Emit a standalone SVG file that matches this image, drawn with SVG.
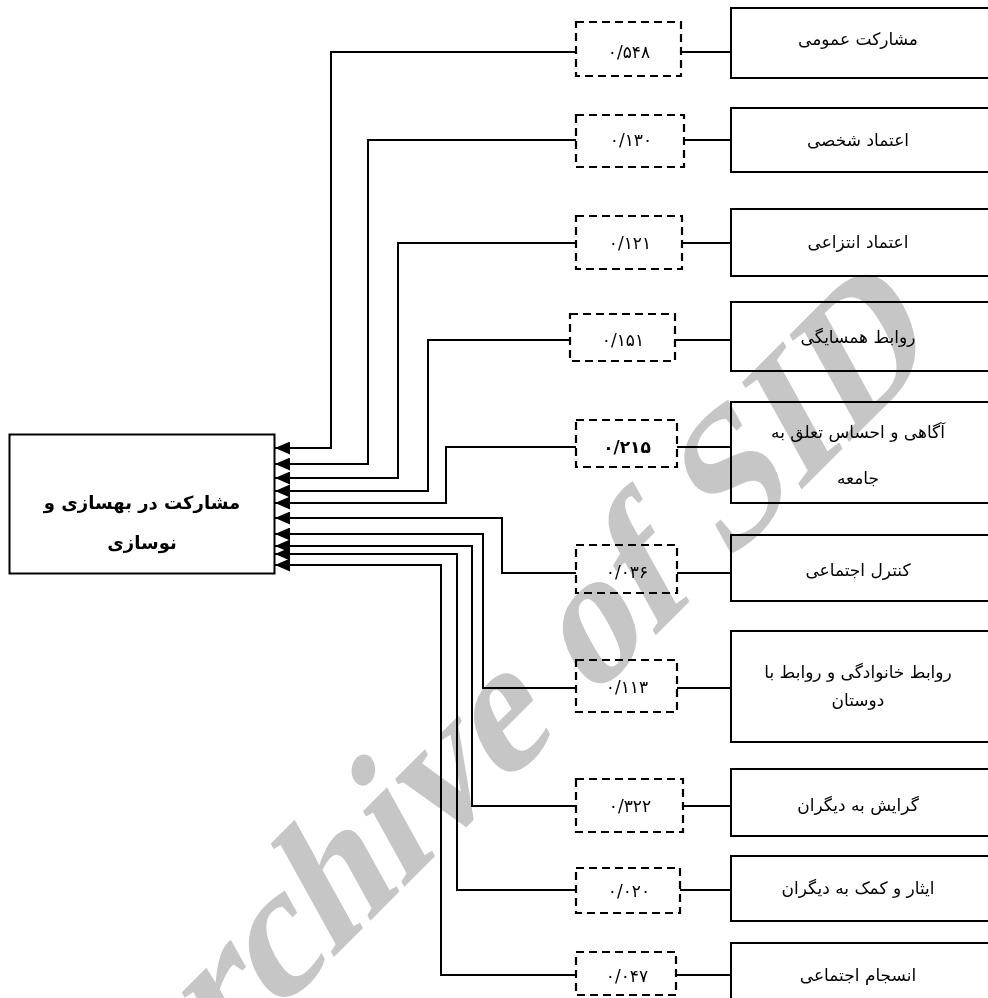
<svg xmlns="http://www.w3.org/2000/svg" width="988" height="998" viewBox="0 0 988 998">
<defs>
<style>
.box{fill:none;stroke:#000;stroke-width:2}
.dash{fill:none;stroke:#000;stroke-width:2.2;stroke-dasharray:8 5}
.conn{fill:none;stroke:#000;stroke-width:2}
.lbl{font-family:'DejaVu Sans',sans-serif;font-size:17px;text-anchor:middle;fill:#000}
.num{font-family:'DejaVu Sans',sans-serif;font-size:17px;text-anchor:middle;letter-spacing:2px;fill:#000}
.main{font-family:'DejaVu Sans',sans-serif;font-size:18px;font-weight:bold;text-anchor:middle;fill:#000}
.wm{font-family:'Liberation Serif','Times New Roman',serif;font-weight:bold;font-size:180px;fill:#c6c6c6;mix-blend-mode:multiply}
</style>
<marker id="arr" viewBox="0 0 15 13" refX="15" refY="6.5" markerWidth="15" markerHeight="13" markerUnits="userSpaceOnUse" orient="auto">
<path d="M0,0 L15,6.5 L0,13 z" fill="#000"/>
</marker>
</defs>
<rect x="0" y="0" width="988" height="998" fill="#fff"/>

<g id="target">
<rect class="box" x="9.5" y="434.5" width="265" height="139"/>
<text class="main" x="142" y="509" direction="rtl">مشارکت در بهسازی و</text>
<text class="main" x="142" y="549" direction="rtl">نوسازی</text>
</g>

<g id="connectors">
<path class="conn" d="M576,52 H331 V448 H275" marker-end="url(#arr)"/>
<path class="conn" d="M576,140 H368 V464 H275" marker-end="url(#arr)"/>
<path class="conn" d="M576,243 H398 V478 H275" marker-end="url(#arr)"/>
<path class="conn" d="M570,340 H428 V491 H275" marker-end="url(#arr)"/>
<path class="conn" d="M576,447 H446 V503 H275" marker-end="url(#arr)"/>
<path class="conn" d="M576,573 H502 V518 H275" marker-end="url(#arr)"/>
<path class="conn" d="M576,688 H483 V534 H275" marker-end="url(#arr)"/>
<path class="conn" d="M576,806 H472 V546 H275" marker-end="url(#arr)"/>
<path class="conn" d="M576,890 H457 V554 H275" marker-end="url(#arr)"/>
<path class="conn" d="M576,975 H441 V565 H275" marker-end="url(#arr)"/>
<path class="conn" d="M681,52 H731"/>
<path class="conn" d="M684,140 H731"/>
<path class="conn" d="M682,243 H731"/>
<path class="conn" d="M675,340 H731"/>
<path class="conn" d="M677,447 H731"/>
<path class="conn" d="M677,573 H731"/>
<path class="conn" d="M677,688 H731"/>
<path class="conn" d="M683,806 H731"/>
<path class="conn" d="M680,890 H731"/>
<path class="conn" d="M676,975 H731"/>
</g>

<g id="coef1"><rect class="dash" x="576" y="22" width="105" height="54"/><text class="num" x="629" y="58">۰/۵۴۸</text></g>
<g id="coef2"><rect class="dash" x="576" y="115" width="108" height="52"/><text class="num" x="631" y="146">۰/۱۳۰</text></g>
<g id="coef3"><rect class="dash" x="576" y="216" width="106" height="53"/><text class="num" x="630" y="249">۰/۱۲۱</text></g>
<g id="coef4"><rect class="dash" x="570" y="314" width="105" height="47"/><text class="num" x="623" y="346">۰/۱۵۱</text></g>
<g id="coef5"><rect class="dash" x="576" y="420" width="101" height="47"/><text class="num" x="627" y="453" font-weight="bold">۰/۲۱۵</text></g>
<g id="coef6"><rect class="dash" x="576" y="545" width="101" height="48"/><text class="num" x="627" y="578">۰/۰۳۶</text></g>
<g id="coef7"><rect class="dash" x="576" y="660" width="101" height="52"/><text class="num" x="627" y="693">۰/۱۱۳</text></g>
<g id="coef8"><rect class="dash" x="576" y="779" width="107" height="53"/><text class="num" x="630" y="812">۰/۳۲۲</text></g>
<g id="coef9"><rect class="dash" x="576" y="868" width="104" height="45"/><text class="num" x="629" y="897">۰/۰۲۰</text></g>
<g id="coef10"><rect class="dash" x="576" y="952" width="100" height="43"/><text class="num" x="627" y="982">۰/۰۴۷</text></g>

<g id="factor1"><rect class="box" x="731" y="8" width="270" height="70"/><text class="lbl" x="858" y="45" direction="rtl">مشارکت عمومی</text></g>
<g id="factor2"><rect class="box" x="731" y="108" width="270" height="64"/><text class="lbl" x="858" y="146" direction="rtl">اعتماد شخصی</text></g>
<g id="factor3"><rect class="box" x="731" y="209" width="270" height="67"/><text class="lbl" x="858" y="248" direction="rtl">اعتماد انتزاعی</text></g>
<g id="factor4"><rect class="box" x="731" y="302" width="270" height="69"/><text class="lbl" x="858" y="343" direction="rtl">روابط همسایگی</text></g>
<g id="factor5"><rect class="box" x="731" y="402" width="270" height="101"/><text class="lbl" x="858" y="438" direction="rtl">آگاهی و احساس تعلق به</text><text class="lbl" x="858" y="484" direction="rtl">جامعه</text></g>
<g id="factor6"><rect class="box" x="731" y="535" width="270" height="66"/><text class="lbl" x="858" y="576" direction="rtl">کنترل اجتماعی</text></g>
<g id="factor7"><rect class="box" x="731" y="631" width="270" height="111"/><text class="lbl" x="858" y="678" direction="rtl">روابط خانوادگی و روابط با</text><text class="lbl" x="858" y="706" direction="rtl">دوستان</text></g>
<g id="factor8"><rect class="box" x="731" y="769" width="270" height="67"/><text class="lbl" x="858" y="811" direction="rtl">گرایش به دیگران</text></g>
<g id="factor9"><rect class="box" x="731" y="856" width="270" height="65"/><text class="lbl" x="858" y="894" direction="rtl">ایثار و کمک به دیگران</text></g>
<g id="factor10"><rect class="box" x="731" y="943" width="270" height="70"/><text class="lbl" x="858" y="981" direction="rtl">انسجام اجتماعی</text></g>

<text class="wm" transform="translate(128,1163) rotate(-45) skewX(-16)">Archive of SID</text>
</svg>
